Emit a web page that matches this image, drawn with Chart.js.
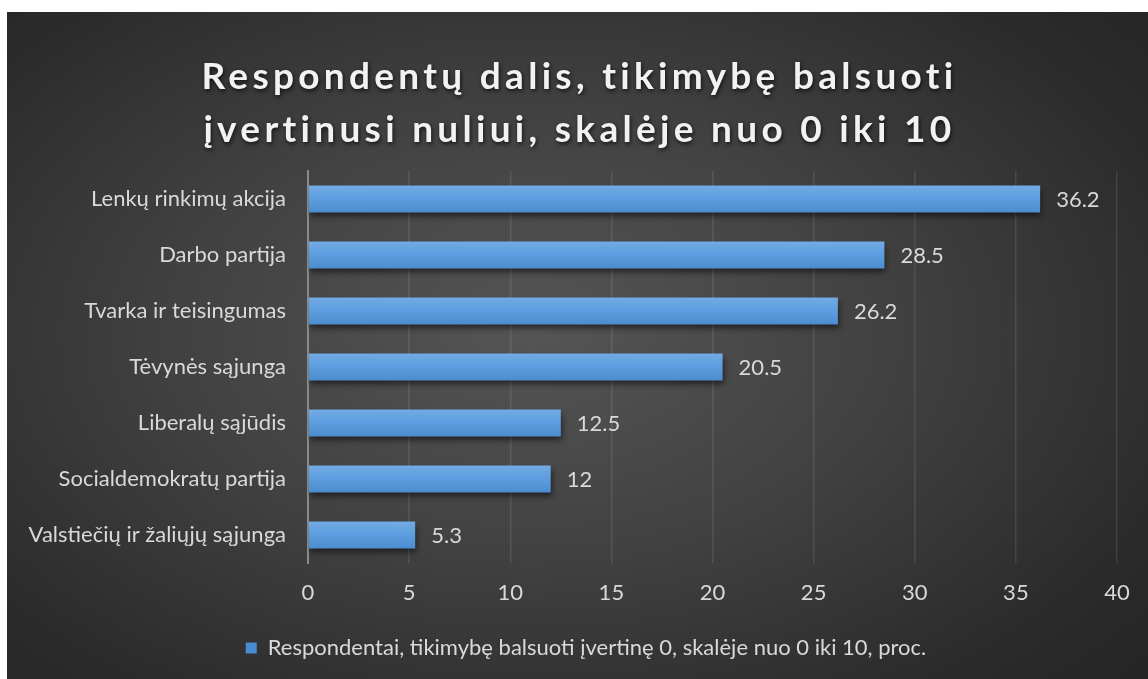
<!DOCTYPE html>
<html>
<head>
<meta charset="utf-8">
<script src="https://cdn.jsdelivr.net/npm/chart.js@4"></script>
<style>
  html, body { margin: 0; padding: 0; background: #ffffff; }
  #panel {
    position: absolute; left: 7px; top: 12px; width: 1141px; height: 667px;
    background: radial-gradient(ellipse 70% 75% at 46% 48%, #555555 0%, #414141 45%, #2b2b2b 85%, #262626 100%);
  }
  canvas { display: block; }
</style>
</head>
<body>
<div id="panel"><canvas id="chart" width="1141" height="667"></canvas></div>
<script>
const titleLines = ["Respondentų dalis, tikimybę balsuoti", "įvertinusi nuliui, skalėje nuo 0 iki 10"];
const categories = [
  "Lenkų rinkimų akcija",
  "Darbo partija",
  "Tvarka ir teisingumas",
  "Tėvynės sąjunga",
  "Liberalų sąjūdis",
  "Socialdemokratų partija",
  "Valstiečių ir žaliųjų sąjunga"
];
const values = [36.2, 28.5, 26.2, 20.5, 12.5, 12, 5.3];
const seriesLabel = "Respondentai, tikimybę balsuoti įvertinę 0, skalėje nuo 0 iki 10, proc.";
const xMin = 0, xMax = 40, xStep = 5;

const fontFamily = "Lato, 'Open Sans', sans-serif";
const textColor = "#d9d9d9";
const labelSize = 22;

// title drawn by hand so it can have letter spacing + shadow
const titlePlugin = {
  id: "spacedTitle",
  afterLayout(chart) {
    // legend is centred on the whole panel, not on the padded area
    if (chart.legend) {
      chart.legend.left += 24;
      chart.legend.right += 24;
    }
  },
  afterDraw(chart) {
    const ctx = chart.ctx;
    ctx.save();
    ctx.font = "bold 37px " + fontFamily;
    ctx.letterSpacing = "4.3px";
    ctx.fillStyle = "#f2f2f2";
    ctx.textAlign = "center";
    ctx.textBaseline = "middle";
    ctx.shadowColor = "rgba(0,0,0,0.7)";
    ctx.shadowBlur = 4;
    ctx.shadowOffsetX = 1;
    ctx.shadowOffsetY = 2;
    ctx.fillText(titleLines[0], chart.width / 2 + 2, 65);
    ctx.fillText(titleLines[1], chart.width / 2 + 2, 118);
    ctx.restore();
  }
};

const barShadow = {
  id: "barShadow",
  beforeDatasetsDraw(chart) {
    const ctx = chart.ctx;
    ctx.save();
    ctx.shadowColor = "rgba(0,0,0,0.55)";
    ctx.shadowBlur = 6;
    ctx.shadowOffsetX = 1;
    ctx.shadowOffsetY = 4;
  },
  afterDatasetsDraw(chart) {
    chart.ctx.restore();
    // value labels at bar ends
    const ctx = chart.ctx;
    const meta = chart.getDatasetMeta(0);
    ctx.save();
    ctx.font = labelSize + "px " + fontFamily;
    ctx.fillStyle = textColor;
    ctx.textAlign = "left";
    ctx.textBaseline = "middle";
    meta.data.forEach((bar, i) => {
      ctx.fillText(String(values[i]), bar.x + 16, bar.y + 1);
    });
    ctx.restore();
  }
};

function barFill(c) {
  const chart = c.chart;
  const y = chart.scales && chart.scales.y;
  if (!chart.chartArea || !y || c.dataIndex === undefined) return "#5b9bd5";
  const cy = y.getPixelForValue(c.dataIndex);
  const g = chart.ctx.createLinearGradient(0, cy - 14, 0, cy + 14);
  g.addColorStop(0, "#74abe2");
  g.addColorStop(0.5, "#5c9ddf");
  g.addColorStop(1, "#4a8ccf");
  return g;
}

new Chart(document.getElementById("chart"), {
  type: "bar",
  data: {
    labels: categories,
    datasets: [{
      label: seriesLabel,
      data: values,
      backgroundColor: barFill,
      borderWidth: 0,
      barPercentage: 0.48,
      categoryPercentage: 1
    }]
  },
  options: {
    indexAxis: "y",
    responsive: false,
    animation: false,
    layout: { padding: { top: 159, right: 31, left: 0, bottom: 10 } },
    scales: {
      x: {
        min: xMin, max: xMax,
        ticks: { stepSize: xStep, color: textColor, font: { family: fontFamily, size: labelSize }, padding: 17 },
        grid: { color: "rgba(255,255,255,0.1)", lineWidth: 1.5, drawTicks: false },
        border: { display: false },
        afterFit(scale) { scale.height = 64; }
      },
      y: {
        ticks: { color: textColor, font: { family: fontFamily, size: labelSize }, padding: 22 },
        grid: { display: false, drawTicks: false },
        border: { display: true, color: "#8a8a8a", width: 2 },
        afterFit(scale) { scale.width = 301; }
      }
    },
    plugins: {
      title: { display: false },
      tooltip: { enabled: false },
      legend: {
        position: "bottom",
        labels: {
          color: textColor,
          font: { family: fontFamily, size: labelSize },
          boxWidth: 11, boxHeight: 11,
          padding: 10,
          useBorderRadius: false
        }
      }
    }
  },
  plugins: [barShadow, titlePlugin]
});
</script>
</body>
</html>
